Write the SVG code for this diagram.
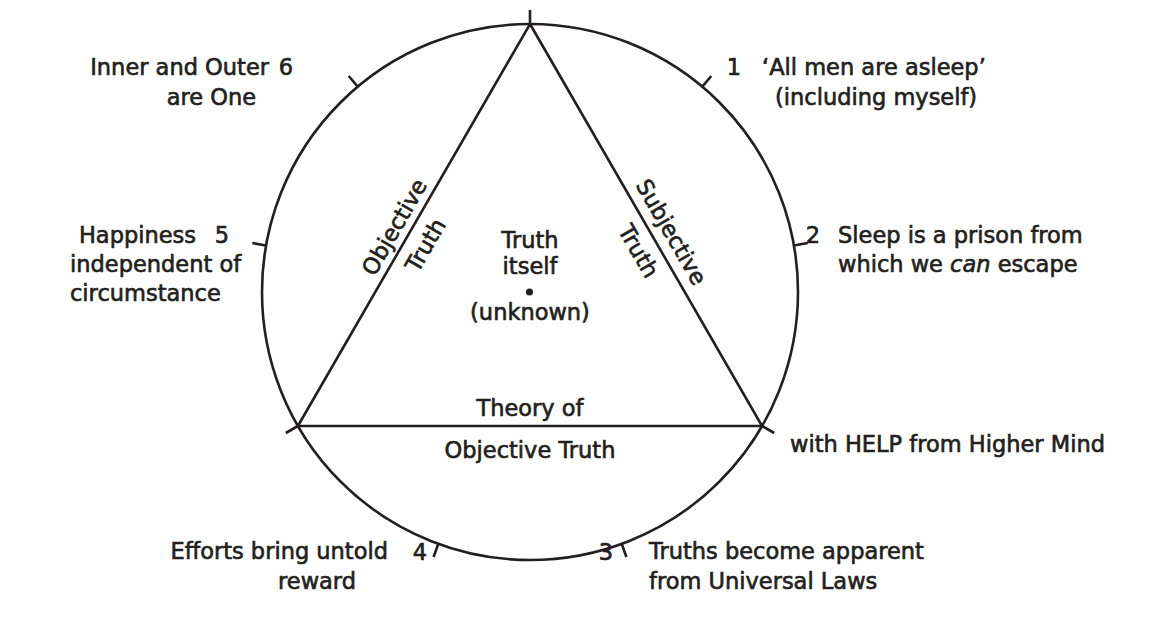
<svg xmlns="http://www.w3.org/2000/svg" width="1149" height="628" viewBox="0 0 1149 628">
<style>
.ln{fill:none;stroke:#231f20;stroke-width:2.6;stroke-linecap:butt}
text{font-family:"DejaVu Sans","Liberation Sans",sans-serif;font-size:22.5px;fill:#231f20;stroke:#231f20;stroke-width:0.65}
.m{text-anchor:middle}
.e{text-anchor:end}
</style>
<rect width="1149" height="628" fill="#fff"/>
<g id="connectors">
<circle class="ln" cx="530" cy="292" r="268"/>
<polygon class="ln" points="530,24 762.1,426 297.9,426"/>
<path class="ln" d="M530,24V10 M702.3,86.7L711.3,76 M793.9,245.5L807.7,243 M762.1,426L774.2,433 M621.7,543.8L626.4,557 M438.3,543.8L433.6,557 M297.9,426L285.8,433 M266.1,245.5L252.3,243 M357.7,86.7L348.7,76"/>
</g>
<g id="center">
<text class="m" x="530" y="248">Truth</text>
<text class="m" x="530" y="274" font-size="22">itself</text>
<circle cx="529.5" cy="292" r="3.6" fill="#231f20"/>
<text class="m" x="530" y="320">(unknown)</text>
</g>
<g id="left-side" transform="translate(408,235) rotate(-60)">
<text class="m" x="0" y="-8">Objective</text>
<text class="m" x="0" y="28">Truth</text>
</g>
<g id="right-side" transform="translate(656,241) rotate(60)">
<text class="m" x="0" y="-10">Subjective</text>
<text class="m" x="0" y="28">Truth</text>
</g>
<g id="base">
<text class="m" x="530" y="416">Theory of</text>
<text class="m" x="530" y="458">Objective Truth</text>
</g>
<g id="n1">
<text class="m" x="734" y="75">1</text>
<text x="762" y="75">‘All men are asleep’</text>
<text x="775" y="105">(including myself)</text>
</g>
<g id="n2">
<text class="m" x="813" y="243">2</text>
<text x="838" y="243">Sleep is a prison from</text>
<text x="838" y="272">which we <tspan font-style="italic">can</tspan> escape</text>
</g>
<g id="help">
<text x="790" y="452">with HELP from Higher Mind</text>
</g>
<g id="n3">
<text class="m" x="606" y="560">3</text>
<text x="649" y="559">Truths become apparent</text>
<text x="649" y="589">from Universal Laws</text>
</g>
<g id="n4">
<text class="m" x="420" y="560">4</text>
<text class="e" x="388" y="559">Efforts bring untold</text>
<text class="e" x="356" y="589">reward</text>
</g>
<g id="n5">
<text class="m" x="222" y="243">5</text>
<text class="e" x="196" y="243">Happiness</text>
<text x="70" y="272">independent of</text>
<text x="70" y="301">circumstance</text>
</g>
<g id="n6">
<text class="m" x="286" y="75">6</text>
<text class="e" x="269" y="75">Inner and Outer</text>
<text class="e" x="256" y="105">are One</text>
</g>
</svg>
